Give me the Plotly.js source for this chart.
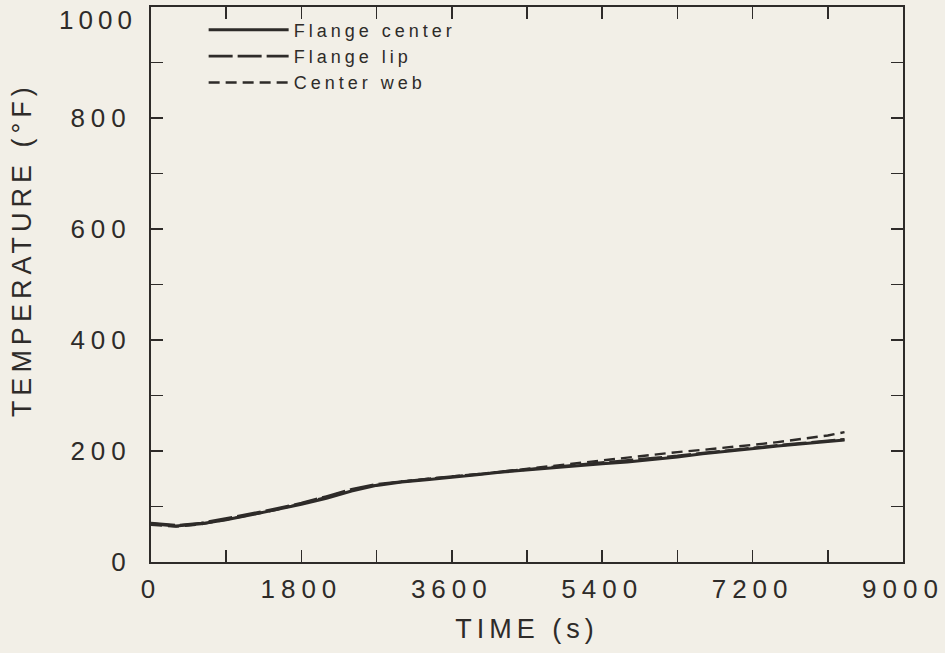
<!DOCTYPE html>
<html>
<head>
<meta charset="utf-8">
<script src="https://cdn.plot.ly/plotly-3.0.1.min.js"></script>
<style>
  html, body { margin: 0; padding: 0; background: #f2efe7; }
  #chart { width: 945px; height: 653px; }
  .xtick text, .ytick text { letter-spacing: 6px; }
  .g-xtitle text { letter-spacing: 5px; }
  .annotation-text { letter-spacing: 5px; }
  .legendtext { letter-spacing: 4px; }
</style>
</head>
<body>
<div id="chart"></div>
<script>
// Time (s)
const timeS = [0, 300, 600, 900, 1200, 1500, 1800, 2100, 2400, 2700, 3000, 3300, 3600, 3900, 4200, 4500, 4800, 5100, 5400, 5700, 6000, 6300, 6600, 6900, 7200, 7500, 7800, 8100, 8300];
// Temperatures (°F)
const flangeCenter = [69, 65, 69, 76, 85, 94, 104, 115, 128, 138, 144, 148, 152, 157, 162, 166, 170, 174, 177, 180, 184, 189, 195, 200, 205, 209, 213, 217, 220];
const flangeLip    = [70, 66, 70, 78, 87, 96, 106, 118, 131, 140, 145, 150, 154, 158, 163, 167, 171, 175, 178, 182, 186, 191, 196, 201, 206, 210, 214, 218, 221];
const centerWeb    = [67, 64, 68, 76, 85, 94, 105, 117, 130, 139, 145, 150, 154, 158, 163, 168, 173, 178, 184, 189, 194, 198, 202, 206, 211, 216, 222, 228, 234];
const seriesNames = ["Flange center", "Flange lip", "Center web"];
// Axis ticks and titles
const yTickVals = [0, 200, 400, 600, 800];
const yTopTick = 1000;
const xTitle = "TIME (s)";
const yTitle = "TEMPERATURE (°F)";

const ink = "#2e2b29";
const fontFam = "Liberation Sans, Arial, sans-serif";

const traces = [
  { x: timeS, y: flangeCenter, name: seriesNames[0], mode: "lines", line: { color: ink, width: 3, dash: "solid" } },
  { x: timeS, y: flangeLip, name: seriesNames[1], mode: "lines", line: { color: ink, width: 2.8, dash: "24px,5px" } },
  { x: timeS, y: centerWeb, name: seriesNames[2], mode: "lines", line: { color: ink, width: 2.4, dash: "11px,6px" } }
];

const layout = {
  width: 945, height: 653,
  paper_bgcolor: "#f2efe7", plot_bgcolor: "#f2efe7",
  margin: { l: 151, r: 42, t: 7, b: 91, pad: 0 },
  font: { family: fontFam, color: ink },
  showlegend: true,
  legend: {
    x: 0.07, y: 0.992, xanchor: "left", yanchor: "top",
    bgcolor: "rgba(0,0,0,0)", borderwidth: 0,
    itemwidth: 80,
    font: { family: fontFam, size: 18, color: ink },
    tracegroupgap: 0
  },
  xaxis: {
    range: [0, 9000], dtick: 1800, tick0: 0,
    ticks: "inside", ticklen: 12, tickwidth: 1.5, tickcolor: ink,
    minor: { dtick: 900, ticks: "inside", ticklen: 12, tickwidth: 1.5, tickcolor: ink },
    showline: true, linecolor: ink, linewidth: 2, mirror: "ticks",
    showgrid: false, zeroline: false,
    tickfont: { family: fontFam, size: 26, color: ink },
    ticklabelstandoff: 3, ticklabeloverflow: "allow",
    title: { text: xTitle, font: { family: fontFam, size: 27, color: ink }, standoff: 16 }
  },
  yaxis: {
    range: [0, 1000], tickmode: "array", tickvals: yTickVals,
    ticks: "inside", ticklen: 12, tickwidth: 1.5, tickcolor: ink,
    minor: { tickmode: "linear", tick0: 0, dtick: 100, ticks: "inside", ticklen: 12, tickwidth: 1.5, tickcolor: ink },
    showline: true, linecolor: ink, linewidth: 2, mirror: "ticks",
    showgrid: false, zeroline: false,
    tickfont: { family: fontFam, size: 26, color: ink },
    ticklabelstandoff: 12, ticklabeloverflow: "allow"
  },
  annotations: [
    {
      text: yTitle, textangle: -90, showarrow: false,
      xref: "paper", yref: "paper", x: -0.1715, y: 0.562,
      xanchor: "center", yanchor: "middle",
      font: { family: fontFam, size: 27, color: ink }
    },
    {
      text: String(yTopTick), showarrow: false,
      xref: "paper", yref: "y", x: 0, y: yTopTick,
      xanchor: "right", yanchor: "middle", xshift: -12, yshift: -13,
      font: { family: fontFam, size: 26, color: ink }
    }
  ]
};

Plotly.newPlot("chart", traces, layout, { displayModeBar: false, staticPlot: true });
</script>
</body>
</html>
